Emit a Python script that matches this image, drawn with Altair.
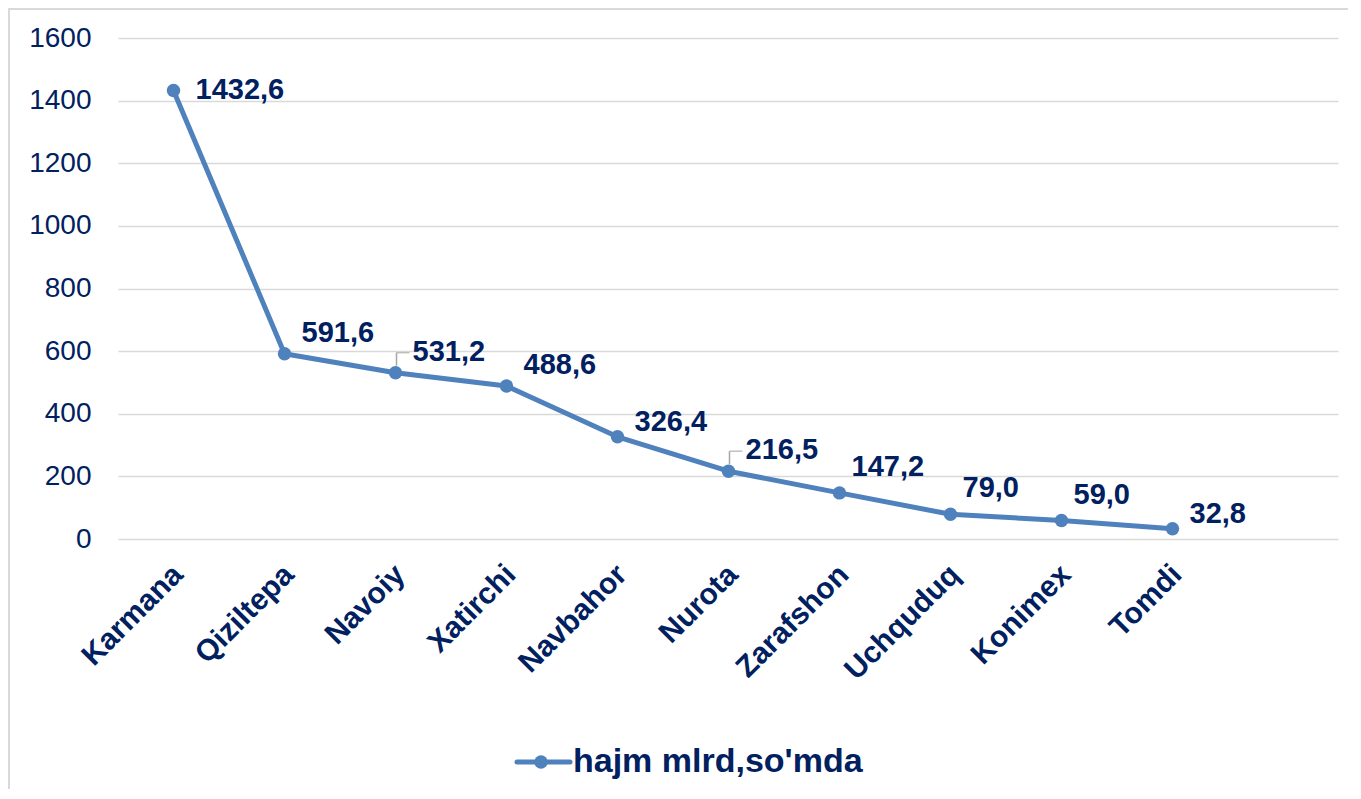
import altair as alt
import pandas as pd

categories = ["Karmana", "Qiziltepa", "Navoiy", "Xatirchi", "Navbahor",
              "Nurota", "Zarafshon", "Uchquduq", "Konimex", "Tomdi"]
values = [1432.6, 591.6, 531.2, 488.6, 326.4, 216.5, 147.2, 79.0, 59.0, 32.8]
labels = [f"{v:.1f}".replace(".", ",") for v in values]
y_ticks = [0, 200, 400, 600, 800, 1000, 1200, 1400, 1600]
series_name = "hajm mlrd,so'mda"

df = pd.DataFrame({"region": categories, "value": values, "label": labels})

BLUE = "#4F81BD"
NAVY = "#002060"
GRID = "#D9D9D9"
FONT = "Liberation Sans"
W, H = 1220, 501

x = alt.X("region:N", sort=categories,
          scale=alt.Scale(type="band", paddingInner=0, paddingOuter=0.4955, align=0),
          axis=alt.Axis(title=None, labelAngle=-45, labelFontSize=30, labelFontWeight="bold",
                        labelColor=NAVY, labelFont=FONT, ticks=False, domain=False,
                        labelPadding=20, labelOffset=-6, grid=False))
y = alt.Y("value:Q", scale=alt.Scale(domain=[0, 1600], nice=False),
          axis=alt.Axis(title=None, values=y_ticks, labelFontSize=28, labelColor=NAVY,
                        labelFont=FONT, ticks=False, domain=False, grid=True,
                        gridColor=GRID, gridWidth=1.5, labelPadding=27, format="d"))

base = alt.Chart(df)

border = alt.Chart(pd.DataFrame({"k": [0]})).mark_rect(
    filled=False, stroke=GRID, strokeWidth=2
).encode(x=alt.value(-109), x2=alt.value(1400), y=alt.value(-29), y2=alt.value(900))

line = base.mark_line(
    color=BLUE, strokeWidth=5, strokeJoin="round",
    point=alt.OverlayMarkDef(filled=True, color=BLUE, size=180, opacity=1)
).encode(x=x, y=y)

leader_regions = ["Navoiy", "Nurota"]
leader_v = base.transform_filter(
    alt.FieldOneOfPredicate(field="region", oneOf=leader_regions)
).mark_rule(color="#A6A6A6", strokeWidth=1.5, xOffset=1, yOffset=-7, y2Offset=-20).encode(
    x=x, y=y, y2=alt.Y2("value:Q"))
leader_h = base.transform_filter(
    alt.FieldOneOfPredicate(field="region", oneOf=leader_regions)
).mark_tick(color="#A6A6A6", orient="horizontal", size=13, thickness=1.5,
            xOffset=7.5, yOffset=-20).encode(x=x, y=y)


def text_layer(names, dx, dy):
    return base.transform_filter(
        alt.FieldOneOfPredicate(field="region", oneOf=names)
    ).mark_text(align="left", baseline="middle", dx=dx, dy=dy, font=FONT, fontSize=29,
                fontWeight="bold", color=NAVY).encode(x=x, y=y, text="label:N")


t1 = text_layer(["Karmana"], 22, 0)
t2 = text_layer(["Qiziltepa", "Navoiy", "Xatirchi", "Nurota"], 17, -21)
t3 = text_layer(["Navbahor", "Tomdi"], 17, -15)
t4 = text_layer(["Zarafshon", "Uchquduq", "Konimex"], 12, -26)

legend_df = pd.DataFrame({"name": [series_name]})
leg_rule = alt.Chart(legend_df).mark_rule(color=BLUE, strokeWidth=5, strokeCap="round").encode(
    x=alt.value(399), x2=alt.value(452), y=alt.value(724))
leg_pt = alt.Chart(legend_df).mark_point(filled=True, color=BLUE, size=180, opacity=1).encode(
    x=alt.value(423), y=alt.value(724))
leg_txt = alt.Chart(legend_df).mark_text(
    align="left", baseline="middle", font=FONT, fontSize=34, fontWeight="bold", color=NAVY
).encode(x=alt.value(455), y=alt.value(724), text="name:N")

chart = alt.layer(
    border, line, leader_v, leader_h, t1, t2, t3, t4, leg_rule, leg_pt, leg_txt
).properties(
    width=W, height=H,
    autosize=alt.AutoSizeParams(type="none"),
    padding={"left": 110, "top": 30, "right": 10, "bottom": 250},
).configure_view(stroke=None)

chart.save("out.html", embed_options={"renderer": "svg", "actions": False})
